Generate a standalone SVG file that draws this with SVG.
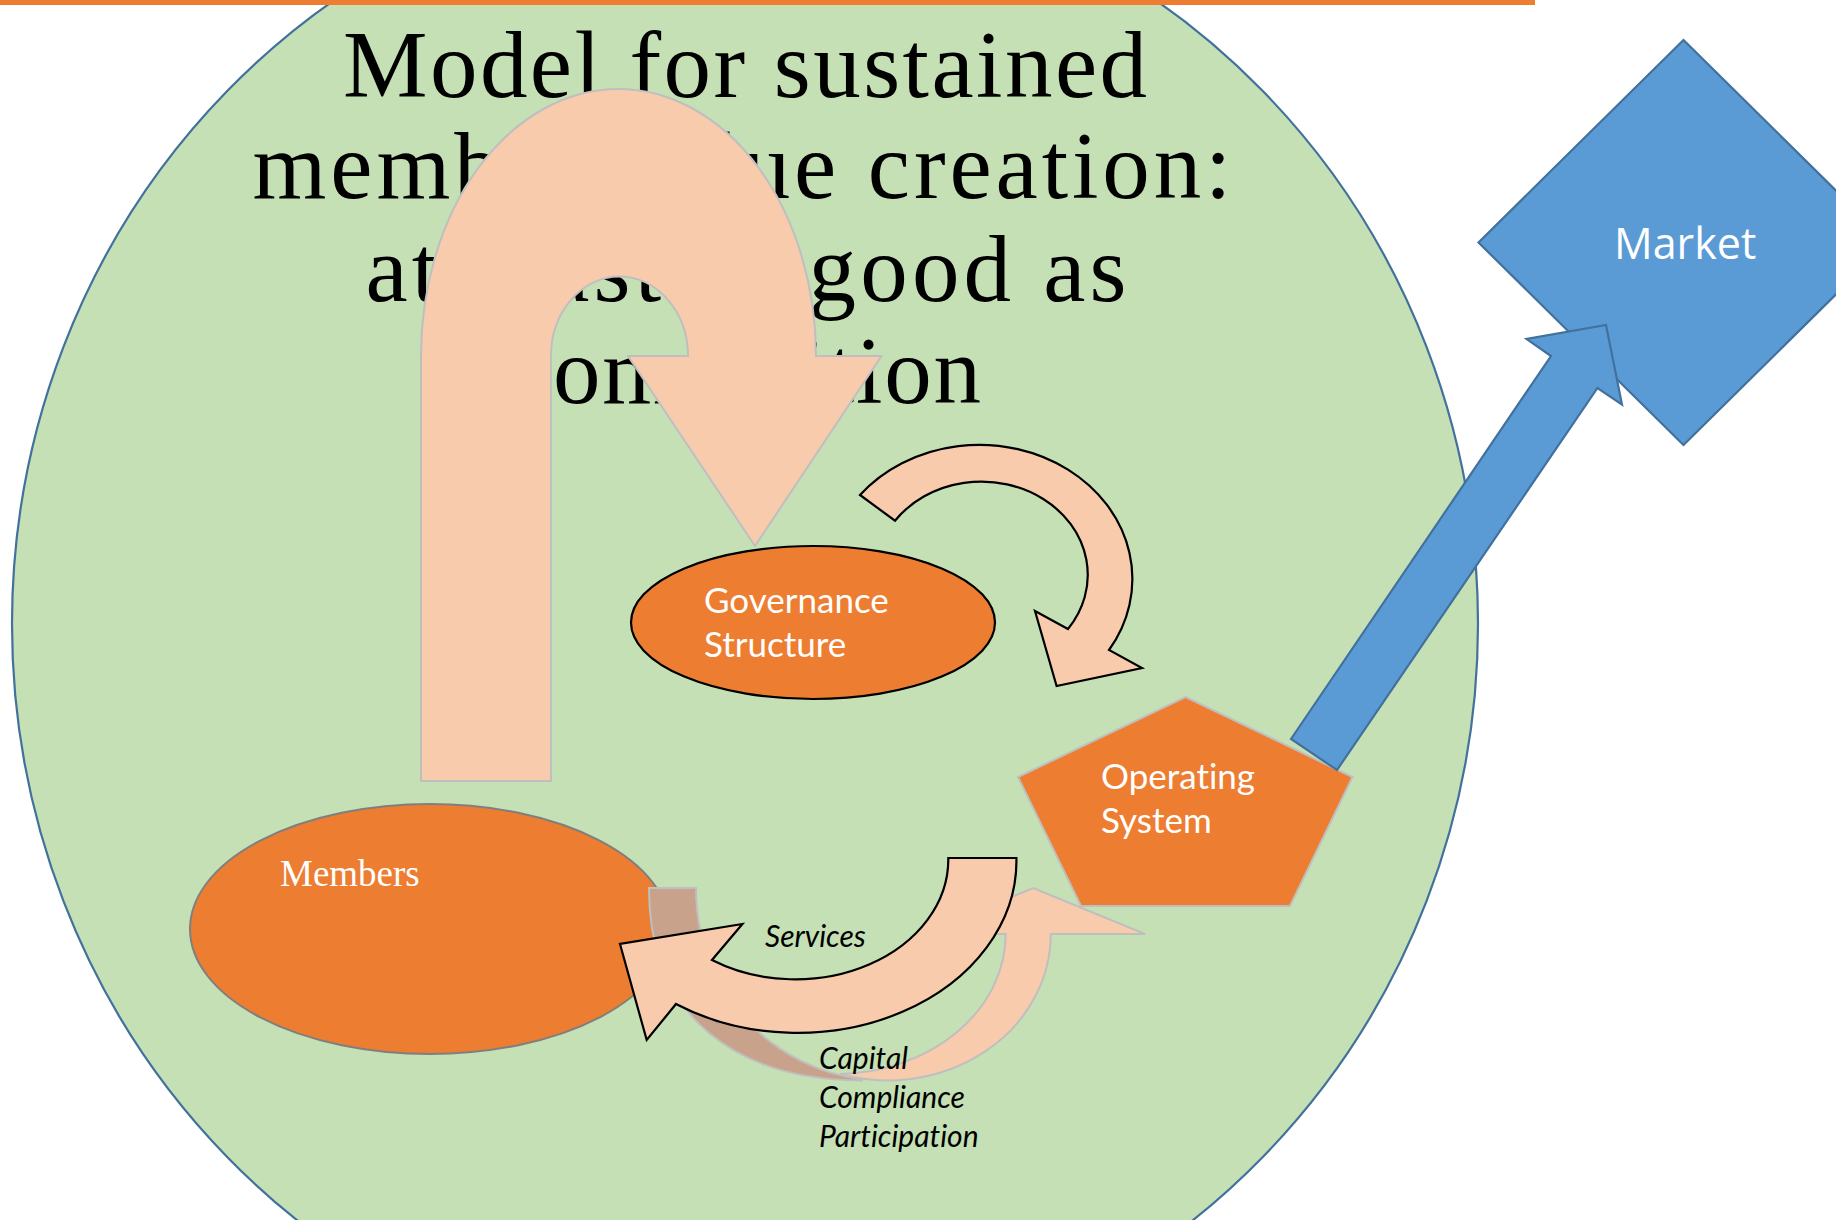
<svg xmlns="http://www.w3.org/2000/svg" width="1836" height="1220" viewBox="0 0 1836 1220">
  <style>
    .title { font-family: "Liberation Serif", "Times New Roman", serif; font-size: 95px; fill: #000; text-anchor: middle; }
    .lbl { font-family: Lato, "Open Sans", sans-serif; font-size: 35px; fill: #fff; font-variant-ligatures: none; font-feature-settings: "liga" 0, "clig" 0; }
    .flow { font-family: Lato, "Open Sans", sans-serif; font-size: 30px; font-style: italic; fill: #000; font-variant-ligatures: none; font-feature-settings: "liga" 0, "clig" 0; }
    .orange { fill: #ED7D31; }
    .peach { fill: #F8CBAD; }
    .soft { stroke: #BFBFBF; stroke-width: 2; stroke-linejoin: miter; }
    .blk { stroke: #000; stroke-width: 2.2; stroke-linejoin: miter; }
    .blue { fill: #5B9BD5; stroke: #41719C; stroke-width: 2.2; }
  </style>
  <rect x="0" y="0" width="1836" height="1220" fill="#FFFFFF"/>

  <g id="context">
    <ellipse cx="745" cy="624" rx="733" ry="753" fill="#C5E0B4" stroke="#41719C" stroke-width="2.2"/>
  </g>
  <rect x="0" y="0" width="1535" height="5" class="orange"/>

  <g id="title">
    <text class="title" x="745" y="97" textLength="804" lengthAdjust="spacing">Model for sustained</text>
    <text class="title" x="742" y="198" textLength="979" lengthAdjust="spacing">member value creation:</text>
    <text class="title" x="746" y="301" textLength="761" lengthAdjust="spacing">at least as good as</text>
    <text class="title" x="745" y="403" textLength="472" lengthAdjust="spacing">competition</text>
  </g>

  <g id="market">
    <polygon points="1683.5,40 1888.5,242.5 1683.5,445 1478.5,242.5" class="blue"/>
    <text x="1614" y="259" font-family="'Open Sans', sans-serif" font-size="43" fill="#fff">Market</text>
  </g>

  <g id="governance">
    <ellipse cx="813" cy="622.5" rx="182" ry="76.5" class="orange" stroke="#000" stroke-width="2.2"/>
    <text class="lbl" x="704" y="613">Governance</text>
    <text class="lbl" x="704" y="657">Structure</text>
  </g>

  <g id="members">
    <ellipse cx="430" cy="929" rx="240" ry="125" class="orange" stroke="#7F7F7F" stroke-width="2"/>
    <text x="280" y="886" font-family="'Liberation Serif', 'Times New Roman', serif" font-size="37" fill="#fff">Members</text>
  </g>

  <g id="operating-system">
    <polygon points="1185.5,697 1352.5,777 1290,906 1081,906 1018,777" class="orange soft"/>
    <text class="lbl" x="1101" y="789">Operating</text>
    <text class="lbl" x="1101" y="833">System</text>
  </g>

  <g id="connectors">
    <path id="u-arrow" class="peach soft" d="M 421 781 L 421 356 A 197.5 267 0 0 1 816 356 L 881.5 356 L 755 546 L 628 356 L 688 356 A 68.5 79.5 0 0 0 551 356 L 551 781 Z"/>
    <path id="gov-to-os" class="peach blk" d="M 860 495 A 153 134 0 0 1 1109 650 L 1142 668 L 1056.6 686 L 1035 611 L 1068 629 A 106 93 0 0 0 895 520.7 Z"/>
    <path id="os-to-market" class="blue" d="M 1291 739 L 1551 356 L 1526.5 339 L 1606 325 L 1622 404.6 L 1597.5 388 L 1337 770 Z"/>
    <path id="members-to-os-back" fill="#C8A28A" class="soft" d="M 649 888 L 696 888 C 696 1000 780 1070 862 1079 L 862 1080.5 C 740 1080 649 1020 649 888 Z"/>
    <path id="members-to-os" class="peach soft" d="M 1005.7 934 L 921.6 934 L 1033.3 888 L 1145 934 L 1050.7 934 A 163 146 0 0 1 840 1074 A 170 140 0 0 0 1005.7 934 Z"/>
    <path id="os-to-members" class="peach blk" d="M 948.3 858 L 1016.4 858 A 219 172 0 0 1 676 1004 L 646.7 1040 L 620 944 L 742.4 924 L 712 960 A 153 120 0 0 0 948.3 858 Z"/>
  </g>

  <g id="flow-labels">
    <text class="flow" x="765" y="947">Services</text>
    <text class="flow" x="819" y="1069">Capital</text>
    <text class="flow" x="819" y="1108">Compliance</text>
    <text class="flow" x="819" y="1147">Participation</text>
  </g>
</svg>
